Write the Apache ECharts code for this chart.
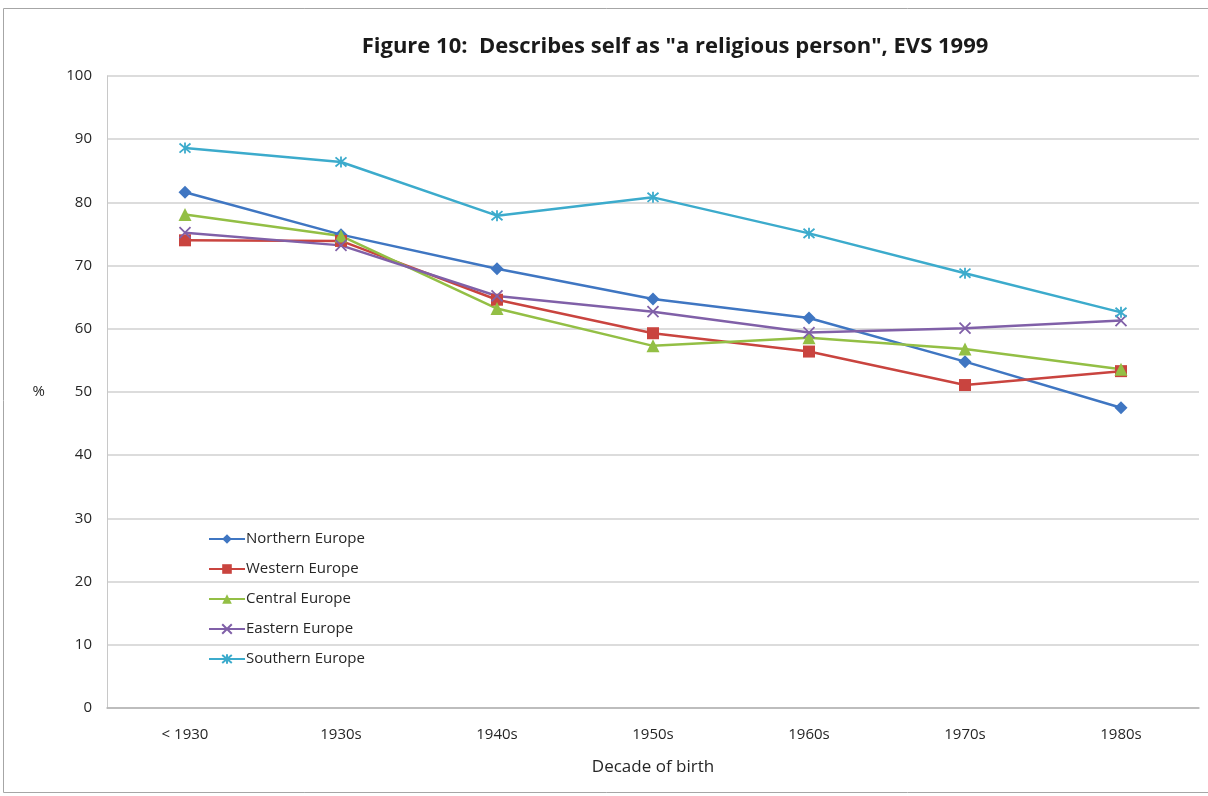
<!DOCTYPE html>
<html>
<head>
<meta charset="utf-8">
<script src="https://cdn.jsdelivr.net/npm/echarts@6/dist/echarts.min.js"></script>
<style>
  html, body { margin: 0; padding: 0; background: #ffffff; }
  #chart { width: 1208px; height: 796px; }
</style>
</head>
<body>
<div id="chart"></div>
<script>
// Decades of birth along the x axis
const decades = ['< 1930', '1930s', '1940s', '1950s', '1960s', '1970s', '1980s'];
const yTicks = [0, 10, 20, 30, 40, 50, 60, 70, 80, 90, 100];

// Share describing themselves as "a religious person" (%)
const northern = [81.6, 74.9, 69.5, 64.7, 61.7, 54.8, 47.5];
const western  = [74.0, 73.9, 64.6, 59.3, 56.4, 51.1, 53.3];
const central  = [78.1, 74.7, 63.2, 57.3, 58.6, 56.8, 53.6];
const eastern  = [75.2, 73.2, 65.2, 62.7, 59.4, 60.1, 61.3];
const southern = [88.6, 86.4, 77.9, 80.8, 75.1, 68.8, 62.6];

const seriesNames = ['Northern Europe', 'Western Europe', 'Central Europe', 'Eastern Europe', 'Southern Europe'];

const crossPath = 'path://M0,0L10,10M10,0L0,10';
const starPath = 'path://M0,0L10,10M10,0L0,10M5,-1L5,11';

function lineSeries(name, data, color, symbol, size, stroke) {
  return {
    name: name,
    type: 'line',
    data: data,
    symbol: symbol,
    symbolSize: size,
    lineStyle: { color: color, width: 2.5 },
    itemStyle: { color: color, borderColor: color, borderWidth: stroke },
    emphasis: { disabled: true },
    animation: false
  };
}

const chart = echarts.init(document.getElementById('chart'), null, { renderer: 'canvas' });
chart.setOption({
  backgroundColor: '#ffffff',
  animation: false,
  title: {
    text: 'Figure 10:  Describes self as "a religious person", EVS 1999',
    left: 670,
    top: 31,
    textAlign: 'center',
    textStyle: { fontFamily: 'Open Sans', fontWeight: 'bold', fontSize: 22, color: '#1a1a1a' }
  },
  graphic: [{
    type: 'rect',
    shape: { x: 3.5, y: 8.5, width: 1210, height: 784 },
    style: { fill: 'none', stroke: '#a6a6a6', lineWidth: 1 },
    silent: true
  }],
  grid: { left: 107, right: 9, top: 76, bottom: 88, containLabel: false },
  legend: {
    orient: 'vertical',
    left: 203,
    top: 525,
    itemGap: 12,
    itemWidth: 36,
    itemHeight: 12,
    data: seriesNames,
    textStyle: { fontFamily: 'Open Sans', fontSize: 15, lineHeight: 18, color: '#262626', padding: [0, 0, 0, -4] }
  },
  xAxis: {
    type: 'category',
    data: decades,
    boundaryGap: true,
    name: 'Decade of birth',
    nameLocation: 'middle',
    nameGap: 51,
    nameTextStyle: { fontFamily: 'Open Sans', fontSize: 17, color: '#262626' },
    axisLine: { lineStyle: { color: '#b3b3b3', width: 1.5 } },
    axisTick: { show: false },
    axisLabel: { fontFamily: 'Open Sans', fontSize: 15, color: '#262626', margin: 19 }
  },
  yAxis: {
    type: 'value',
    min: yTicks[0],
    max: yTicks[yTicks.length - 1],
    interval: 10,
    name: '%',
    nameLocation: 'middle',
    nameRotate: 0,
    nameGap: 62,
    nameTextStyle: { fontFamily: 'Open Sans', fontSize: 15, color: '#262626' },
    axisLine: { show: true, lineStyle: { color: '#c8c8c8', width: 1 } },
    axisTick: { show: false },
    splitLine: { lineStyle: { color: '#d0d0d0', width: 1.5 } },
    axisLabel: { fontFamily: 'Open Sans', fontSize: 15, color: '#262626', margin: 15 }
  },
  series: [
    lineSeries(seriesNames[0], northern, '#3f76c2', 'diamond', 13, 0),
    lineSeries(seriesNames[1], western,  '#c9443f', 'rect', 12, 0),
    lineSeries(seriesNames[2], central,  '#93bf45', 'triangle', 13, 0),
    lineSeries(seriesNames[3], eastern,  '#8060a8', crossPath, 11, 1.8),
    lineSeries(seriesNames[4], southern, '#3cabcc', starPath, 11, 1.8)
  ]
});
</script>
</body>
</html>
